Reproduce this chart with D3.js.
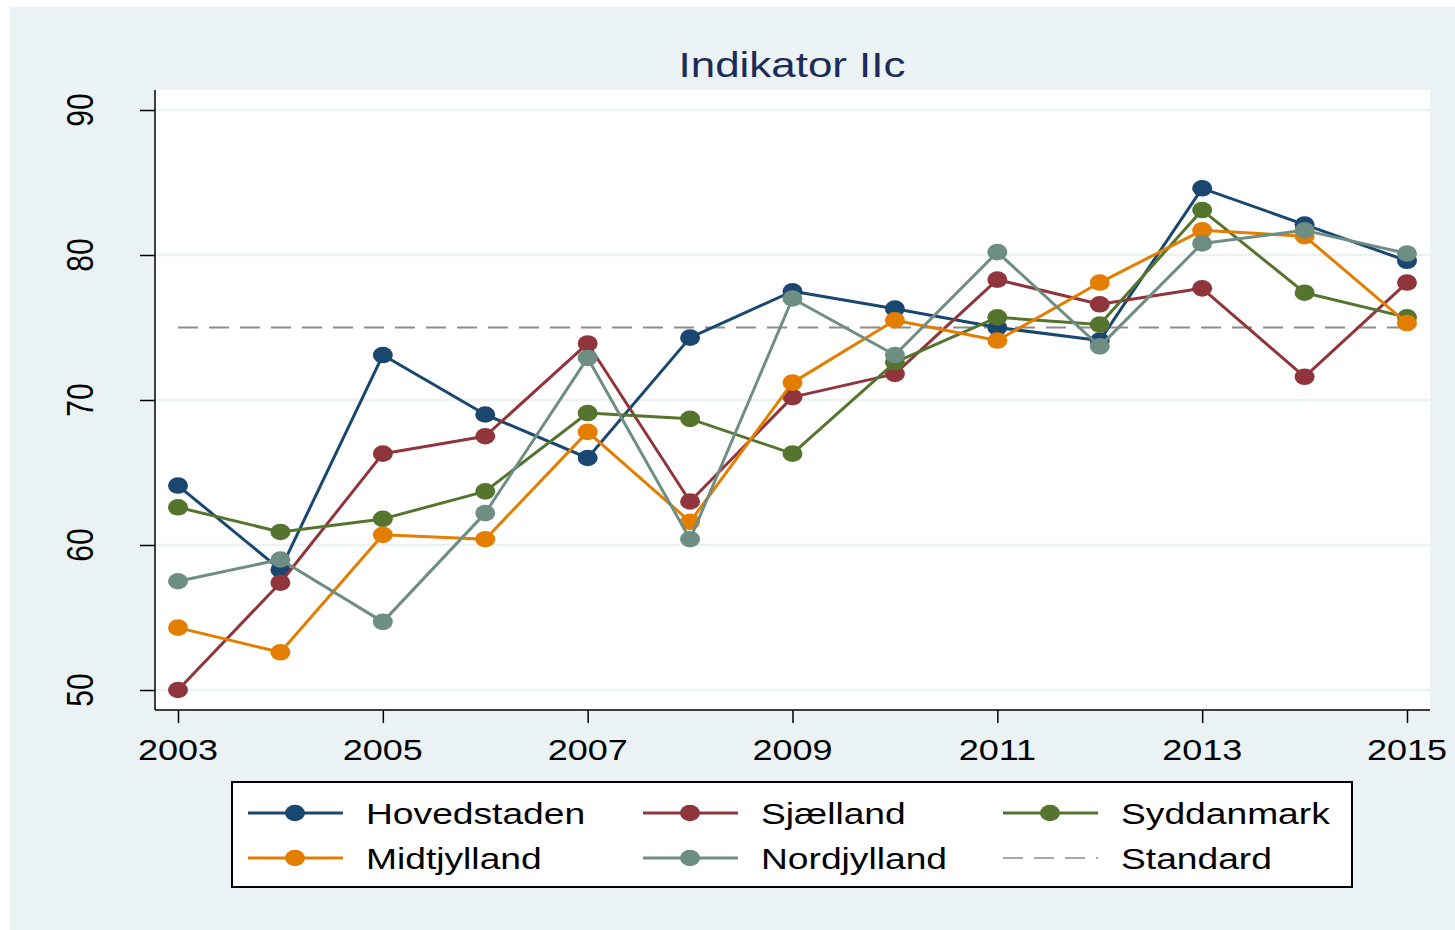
<!DOCTYPE html>
<html>
<head>
<meta charset="utf-8">
<script src="https://cdn.jsdelivr.net/npm/d3@7"></script>
<style>
  body { margin: 0; background: #fff; }
  svg { display: block; font-family: "Liberation Sans", Arial, sans-serif; }
</style>
</head>
<body>
<svg id="chart" width="1455" height="930"></svg>
<script>
// data
var years = [2003, 2004, 2005, 2006, 2007, 2008, 2009, 2010, 2011, 2012, 2013, 2014, 2015];
var xTicks = [2003, 2005, 2007, 2009, 2011, 2013, 2015];
var yTicks = [50, 60, 70, 80, 90];
var hovedstaden = [64.1, 58.3, 73.1, 69.0, 66.0, 74.3, 77.5, 76.3, 75.0, 74.1, 84.6, 82.1, 79.6];
var sjaelland    = [50.0, 57.4, 66.3, 67.5, 73.9, 63.0, 70.2, 71.8, 78.3, 76.6, 77.7, 71.6, 78.1];
var syddanmark   = [62.6, 60.9, 61.8, 63.7, 69.1, 68.7, 66.3, 72.6, 75.7, 75.2, 83.1, 77.4, 75.7];
var midtjylland  = [54.3, 52.6, 60.7, 60.4, 67.8, 61.6, 71.2, 75.5, 74.1, 78.1, 81.7, 81.3, 75.3];
var nordjylland  = [57.5, 59.0, 54.7, 62.2, 72.9, 60.4, 77.0, 73.1, 80.2, 73.7, 80.8, 81.7, 80.1];
var standard = 75;

var series = [
  {name: 'Hovedstaden', values: hovedstaden, color: '#1a476f'},
  {name: 'Sjælland', values: sjaelland, color: '#90353b'},
  {name: 'Syddanmark', values: syddanmark, color: '#55752f'},
  {name: 'Midtjylland', values: midtjylland, color: '#e37e00'},
  {name: 'Nordjylland', values: nordjylland, color: '#6e8e84'}
];

var sx = 1.2; // the picture is stretched sideways
var svg = d3.select('#chart');

var x = d3.scaleLinear().domain([2003, 2015]).range([178, 1407]);
var y = d3.scaleLinear().domain([50, 90]).range([690, 110]);

// backgrounds
svg.append('rect').attr('x', 10).attr('y', 7).attr('width', 1445).attr('height', 923).attr('fill', '#eaf2f3');
svg.append('rect').attr('x', 155).attr('y', 90).attr('width', 1275).attr('height', 620).attr('fill', '#fff');

// title
svg.append('text')
  .attr('transform', 'translate(792,77) scale(1.22,1)')
  .attr('text-anchor', 'middle')
  .style('font-size', '36px')
  .attr('fill', '#1c2b58')
  .text('Indikator IIc');

// grid
svg.append('g').selectAll('line').data(yTicks).enter().append('line')
  .attr('x1', 156).attr('x2', 1430)
  .attr('y1', function(d) { return y(d); }).attr('y2', function(d) { return y(d); })
  .attr('stroke', '#eaf2f3').attr('stroke-width', 2.5);

// y axis
var yAxis = svg.append('g').attr('transform', 'translate(155,0)')
  .call(d3.axisLeft(y).tickValues(yTicks).tickSize(15).tickFormat(''));
yAxis.select('.domain').attr('d', 'M0,90V710').attr('stroke', '#000').attr('stroke-width', 1.5);
yAxis.selectAll('.tick line').attr('stroke', '#000').attr('stroke-width', 1.5);
svg.append('g').selectAll('text').data(yTicks).enter().append('text')
  .attr('transform', function(d) { return 'translate(93,' + y(d) + ') scale(' + sx + ',1) rotate(-90)'; })
  .attr('text-anchor', 'middle')
  .style('font-size', '30px')
  .attr('fill', '#000')
  .text(function(d) { return d; });

// x axis
var xAxis = svg.append('g').attr('transform', 'translate(0,710)')
  .call(d3.axisBottom(x).tickValues(xTicks).tickSize(13).tickFormat(''));
xAxis.select('.domain').attr('d', 'M155,0H1430').attr('stroke', '#000').attr('stroke-width', 1.5);
xAxis.selectAll('.tick line').attr('stroke', '#000').attr('stroke-width', 1.5);
svg.append('g').selectAll('text').data(xTicks).enter().append('text')
  .attr('transform', function(d) { return 'translate(' + x(d) + ',760) scale(' + sx + ',1)'; })
  .attr('text-anchor', 'middle')
  .style('font-size', '30px')
  .attr('fill', '#000')
  .text(function(d) { return d; });

// standard line (drawn under the series)
svg.append('line')
  .attr('x1', x(2003)).attr('x2', x(2015))
  .attr('y1', y(standard)).attr('y2', y(standard))
  .attr('stroke', '#8c8c8c').attr('stroke-width', 1.8)
  .attr('stroke-dasharray', '20,11');

var line = d3.line()
  .x(function(d, i) { return x(years[i]); })
  .y(function(d) { return y(d); });

series.forEach(function(s) {
  var g = svg.append('g');
  g.append('path').attr('d', line(s.values))
    .attr('fill', 'none').attr('stroke', s.color).attr('stroke-width', 3)
    .attr('stroke-linejoin', 'round');
  g.selectAll('ellipse').data(s.values).enter().append('ellipse')
    .attr('cx', function(d, i) { return x(years[i]); })
    .attr('cy', function(d) { return y(d); })
    .attr('rx', 10).attr('ry', 8.3)
    .attr('fill', s.color);
});

// legend
svg.append('rect').attr('x', 232).attr('y', 782).attr('width', 1120).attr('height', 105)
  .attr('fill', '#fff').attr('stroke', '#000').attr('stroke-width', 2);

var legendItems = series.concat([{name: 'Standard', color: '#8c8c8c', dashed: true}]);
var colX = [248, 643, 1003];
var rowY = [813, 858];
legendItems.forEach(function(s, i) {
  var lx = colX[i % 3], ly = rowY[Math.floor(i / 3)];
  var g = svg.append('g');
  if (s.dashed) {
    g.append('line').attr('x1', lx).attr('x2', lx + 95).attr('y1', ly).attr('y2', ly)
      .attr('stroke', s.color).attr('stroke-width', 1.5).attr('stroke-dasharray', '20,11');
  } else {
    g.append('line').attr('x1', lx).attr('x2', lx + 95).attr('y1', ly).attr('y2', ly)
      .attr('stroke', s.color).attr('stroke-width', 3);
    g.append('ellipse').attr('cx', lx + 47).attr('cy', ly).attr('rx', 10).attr('ry', 8.3).attr('fill', s.color);
  }
  g.append('text')
    .attr('transform', 'translate(' + (lx + 118) + ',' + (ly + 11) + ') scale(1.24,1)')
    .style('font-size', '30px')
    .attr('fill', '#000')
    .text(s.name);
});
</script>
</body>
</html>
